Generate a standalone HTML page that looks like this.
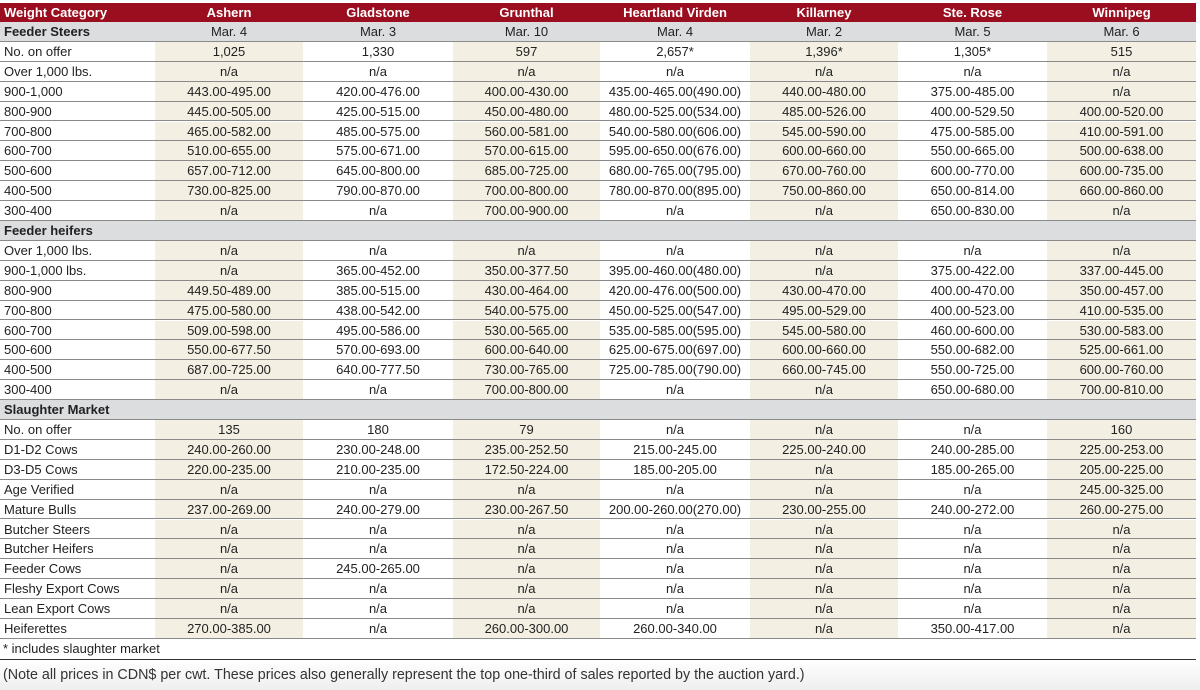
<!DOCTYPE html>
<html><head><meta charset="utf-8"><style>
*{margin:0;padding:0;box-sizing:border-box}
body{width:1200px;height:690px;background:#fff;position:relative;overflow:hidden;font-family:"Liberation Sans Narrow","Liberation Sans",sans-serif;color:#222}
.r{position:absolute;left:0;width:1196px;height:19.9px;border-bottom:1px solid #8a8a8a;font-size:13px;line-height:19px}
.c{position:absolute;top:0;height:100%;text-align:center}
.c0{left:0;width:155px;text-align:left;padding-left:4px}
.sh{background:#f3efe2}
.hd{background:#9b0e1f;color:#fff;font-weight:bold;border-bottom:none}
.sec{background:#dcdddf}
.sec .c0{font-weight:bold}
.foot{position:absolute;left:3px;font-family:"Liberation Sans",sans-serif;font-size:13px}
</style></head><body>
<div id="t"></div>
<script>
var X=[155,303,453,600,750,898,1047,1196];
var rows=[
["H","Weight Category","Ashern","Gladstone","Grunthal","Heartland Virden","Killarney","Ste. Rose","Winnipeg"],
["S","Feeder Steers","Mar. 4","Mar. 3","Mar. 10","Mar. 4","Mar. 2","Mar. 5","Mar. 6"],
["","No. on offer","1,025","1,330","597","2,657*","1,396*","1,305*","515"],
["","Over 1,000 lbs.","n/a","n/a","n/a","n/a","n/a","n/a","n/a"],
["","900-1,000","443.00-495.00","420.00-476.00","400.00-430.00","435.00-465.00(490.00)","440.00-480.00","375.00-485.00","n/a"],
["","800-900","445.00-505.00","425.00-515.00","450.00-480.00","480.00-525.00(534.00)","485.00-526.00","400.00-529.50","400.00-520.00"],
["","700-800","465.00-582.00","485.00-575.00","560.00-581.00","540.00-580.00(606.00)","545.00-590.00","475.00-585.00","410.00-591.00"],
["","600-700","510.00-655.00","575.00-671.00","570.00-615.00","595.00-650.00(676.00)","600.00-660.00","550.00-665.00","500.00-638.00"],
["","500-600","657.00-712.00","645.00-800.00","685.00-725.00","680.00-765.00(795.00)","670.00-760.00","600.00-770.00","600.00-735.00"],
["","400-500","730.00-825.00","790.00-870.00","700.00-800.00","780.00-870.00(895.00)","750.00-860.00","650.00-814.00","660.00-860.00"],
["","300-400","n/a","n/a","700.00-900.00","n/a","n/a","650.00-830.00","n/a"],
["S","Feeder heifers","","","","","","",""],
["","Over 1,000 lbs.","n/a","n/a","n/a","n/a","n/a","n/a","n/a"],
["","900-1,000 lbs.","n/a","365.00-452.00","350.00-377.50","395.00-460.00(480.00)","n/a","375.00-422.00","337.00-445.00"],
["","800-900","449.50-489.00","385.00-515.00","430.00-464.00","420.00-476.00(500.00)","430.00-470.00","400.00-470.00","350.00-457.00"],
["","700-800","475.00-580.00","438.00-542.00","540.00-575.00","450.00-525.00(547.00)","495.00-529.00","400.00-523.00","410.00-535.00"],
["","600-700","509.00-598.00","495.00-586.00","530.00-565.00","535.00-585.00(595.00)","545.00-580.00","460.00-600.00","530.00-583.00"],
["","500-600","550.00-677.50","570.00-693.00","600.00-640.00","625.00-675.00(697.00)","600.00-660.00","550.00-682.00","525.00-661.00"],
["","400-500","687.00-725.00","640.00-777.50","730.00-765.00","725.00-785.00(790.00)","660.00-745.00","550.00-725.00","600.00-760.00"],
["","300-400","n/a","n/a","700.00-800.00","n/a","n/a","650.00-680.00","700.00-810.00"],
["S","Slaughter Market","","","","","","",""],
["","No. on offer","135","180","79","n/a","n/a","n/a","160"],
["","D1-D2 Cows","240.00-260.00","230.00-248.00","235.00-252.50","215.00-245.00","225.00-240.00","240.00-285.00","225.00-253.00"],
["","D3-D5 Cows","220.00-235.00","210.00-235.00","172.50-224.00","185.00-205.00","n/a","185.00-265.00","205.00-225.00"],
["","Age Verified","n/a","n/a","n/a","n/a","n/a","n/a","245.00-325.00"],
["","Mature Bulls","237.00-269.00","240.00-279.00","230.00-267.50","200.00-260.00(270.00)","230.00-255.00","240.00-272.00","260.00-275.00"],
["","Butcher Steers","n/a","n/a","n/a","n/a","n/a","n/a","n/a"],
["","Butcher Heifers","n/a","n/a","n/a","n/a","n/a","n/a","n/a"],
["","Feeder Cows","n/a","245.00-265.00","n/a","n/a","n/a","n/a","n/a"],
["","Fleshy Export Cows","n/a","n/a","n/a","n/a","n/a","n/a","n/a"],
["","Lean Export Cows","n/a","n/a","n/a","n/a","n/a","n/a","n/a"],
["","Heiferettes","270.00-385.00","n/a","260.00-300.00","260.00-340.00","n/a","350.00-417.00","n/a"]
];
var h="";
rows.forEach(function(r,i){
 var top=i==0?3:22+(i-1)*19.9;
 var cls=r[0]=="H"?"r hd":(r[0]=="S"?"r sec":"r");
 var ht=i==0?"height:19px;":"";
 h+='<div class="'+cls+'" style="top:'+top+'px;'+ht+'"><div class="c c0">'+r[1]+'</div>';
 for(var j=0;j<7;j++){
  var sh=(r[0]==""&&j%2==0)?" sh":"";
  h+='<div class="c'+sh+'" style="left:'+X[j]+'px;width:'+(X[j+1]-X[j])+'px">'+r[j+2]+'</div>';
 }
 h+='</div>';
});
document.getElementById("t").innerHTML=h;
</script>
<div class="foot" style="top:641px">* includes slaughter market</div>
<div style="position:absolute;left:0;top:659px;width:1196px;height:1px;background:#333"></div>
<div style="position:absolute;left:0;top:660px;width:1200px;height:30px;background:linear-gradient(#fff,#eee)"></div>
<div class="foot" style="top:667px;font-size:14.3px;color:#333">(Note all prices in CDN$ per cwt. These prices also generally represent the top one-third of sales reported by the auction yard.)</div>
</body></html>
